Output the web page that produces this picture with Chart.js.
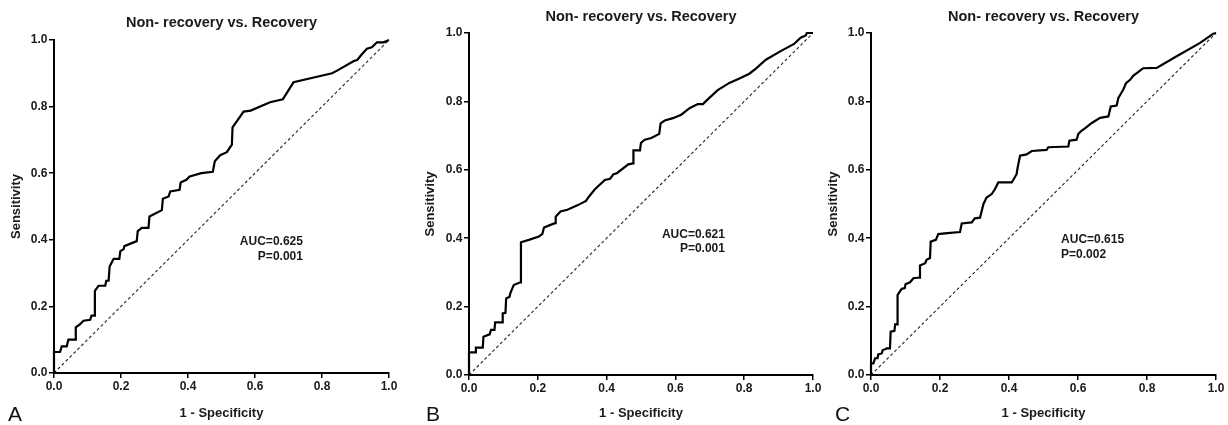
<!DOCTYPE html>
<html>
<head>
<meta charset="utf-8">
<title>Curvas ROC</title>
<script src="https://cdn.jsdelivr.net/npm/chart.js@4.4.1/dist/chart.umd.min.js"></script>
<style>
    html, body { margin: 0; padding: 0; background: #fff; }
    #lienzo { position: relative; width: 1228px; height: 425px; overflow: hidden; }
    .panel { position: absolute; top: 0; height: 425px; }
    .letra { position: absolute; font-family: 'Liberation Sans', Arial, sans-serif; font-size: 21px; line-height: 21px; color: #111; }
</style>
</head>
<body>
<div id="lienzo">
    <div class="panel" style="left:0px;width:410px"><canvas id="rocA" width="410" height="425"></canvas></div>
    <div class="panel" style="left:410px;width:420px"><canvas id="rocB" width="420" height="425"></canvas></div>
    <div class="panel" style="left:820px;width:408px"><canvas id="rocC" width="408" height="425"></canvas></div>
    <div class="letra" id="letraA" style="left:8px;top:403px"></div>
    <div class="letra" id="letraB" style="left:426px;top:403px"></div>
    <div class="letra" id="letraC" style="left:835px;top:403px"></div>
</div>
<script>
(function() {
    // Textos y marcas de los ejes
    const tituloPanel = 'Non- recovery vs. Recovery';
    const tituloX = '1 - Specificity';
    const tituloY = 'Sensitivity';
    const letras = ['A', 'B', 'C'];
    const valoresTicks = [0, 0.2, 0.4, 0.6, 0.8, 1.0];
    const textosAUC = [
        ['AUC=0.625', 'P=0.001'],
        ['AUC=0.621', 'P=0.001'],
        ['AUC=0.615', 'P=0.002']
    ];

    // Línea de referencia
    const diagonalX = [0, 1];
    const diagonalY = [0, 1];

    // Panel A (1 - especificidad, sensibilidad)
    const rocA_fpr = [0, 0, 0.018, 0.023, 0.038, 0.043, 0.063, 0.065, 0.078, 0.088, 0.108, 0.112, 0.12, 0.122, 0.133, 0.153, 0.156, 0.163, 0.166, 0.178, 0.195, 0.198, 0.208, 0.21, 0.247, 0.25, 0.262, 0.282, 0.285, 0.322, 0.325, 0.342, 0.347, 0.375, 0.378, 0.395, 0.405, 0.44, 0.474, 0.48, 0.496, 0.516, 0.531, 0.533, 0.566, 0.587, 0.645, 0.683, 0.715, 0.83, 0.845, 0.895, 0.905, 0.919, 0.934, 0.949, 0.964, 0.984, 1];
    const rocA_sens = [0, 0.063, 0.063, 0.08, 0.08, 0.10, 0.10, 0.137, 0.147, 0.157, 0.16, 0.172, 0.172, 0.247, 0.262, 0.262, 0.277, 0.277, 0.32, 0.343, 0.343, 0.366, 0.372, 0.381, 0.396, 0.426, 0.436, 0.436, 0.47, 0.489, 0.523, 0.53, 0.545, 0.55, 0.572, 0.58, 0.59, 0.60, 0.604, 0.636, 0.654, 0.663, 0.686, 0.738, 0.785, 0.788, 0.813, 0.822, 0.873, 0.90, 0.908, 0.937, 0.94, 0.957, 0.974, 0.978, 0.993, 0.993, 1];

    // Panel B
    const rocB_fpr = [0, 0, 0.018, 0.02, 0.04, 0.042, 0.06, 0.064, 0.074, 0.076, 0.096, 0.098, 0.106, 0.108, 0.118, 0.12, 0.13, 0.149, 0.151, 0.174, 0.203, 0.213, 0.218, 0.237, 0.25, 0.252, 0.266, 0.286, 0.315, 0.34, 0.349, 0.366, 0.395, 0.41, 0.42, 0.43, 0.463, 0.477, 0.478, 0.497, 0.50, 0.511, 0.53, 0.553, 0.557, 0.569, 0.593, 0.617, 0.641, 0.651, 0.665, 0.68, 0.694, 0.723, 0.757, 0.786, 0.815, 0.834, 0.863, 0.906, 0.945, 0.964, 0.979, 0.982, 1];
    const rocB_sens = [0, 0.066, 0.066, 0.08, 0.08, 0.112, 0.119, 0.132, 0.132, 0.154, 0.154, 0.18, 0.182, 0.224, 0.229, 0.239, 0.263, 0.271, 0.388, 0.395, 0.405, 0.412, 0.431, 0.439, 0.444, 0.463, 0.478, 0.483, 0.496, 0.509, 0.522, 0.543, 0.57, 0.574, 0.587, 0.59, 0.616, 0.619, 0.657, 0.657, 0.679, 0.688, 0.693, 0.705, 0.736, 0.744, 0.751, 0.761, 0.78, 0.785, 0.792, 0.792, 0.806, 0.833, 0.854, 0.867, 0.881, 0.896, 0.922, 0.947, 0.968, 0.986, 0.993, 1.0, 1];

    // Panel C
    const rocC_fpr = [0, 0, 0.007, 0.012, 0.019, 0.021, 0.031, 0.034, 0.043, 0.045, 0.055, 0.057, 0.068, 0.07, 0.076, 0.077, 0.089, 0.098, 0.10, 0.113, 0.123, 0.14, 0.142, 0.157, 0.161, 0.171, 0.173, 0.188, 0.195, 0.221, 0.258, 0.263, 0.292, 0.301, 0.316, 0.326, 0.335, 0.35, 0.359, 0.369, 0.408, 0.422, 0.425, 0.432, 0.451, 0.466, 0.509, 0.514, 0.572, 0.575, 0.596, 0.601, 0.61, 0.62, 0.64, 0.664, 0.688, 0.695, 0.712, 0.717, 0.731, 0.739, 0.751, 0.76, 0.775, 0.789, 0.828, 0.886, 0.954, 0.992, 1];
    const rocC_sens = [0, 0.034, 0.034, 0.049, 0.049, 0.06, 0.063, 0.073, 0.076, 0.078, 0.078, 0.127, 0.129, 0.148, 0.148, 0.234, 0.252, 0.254, 0.265, 0.271, 0.283, 0.285, 0.32, 0.327, 0.337, 0.342, 0.39, 0.395, 0.412, 0.415, 0.418, 0.443, 0.446, 0.458, 0.46, 0.50, 0.519, 0.529, 0.543, 0.563, 0.563, 0.587, 0.606, 0.641, 0.645, 0.655, 0.658, 0.666, 0.668, 0.685, 0.688, 0.705, 0.714, 0.721, 0.737, 0.752, 0.756, 0.785, 0.788, 0.81, 0.834, 0.853, 0.863, 0.875, 0.886, 0.897, 0.898, 0.932, 0.971, 0.998, 1];

    const fuente = "'Liberation Sans', Arial, sans-serif";

    // Ajustes de maquetación de cada panel (píxeles y posición del texto AUC)
    const paneles = [
        { id: 'rocA', fpr: rocA_fpr, sens: rocA_sens, anchoY: 54, altoX: 52, padDer: 21, titArriba: 14.3, titAbajo: 8.3, padTitY: 8.2, textoX: 0.743, textoY: [0.393, 0.348], alinear: 'right' },
        { id: 'rocB', fpr: rocB_fpr, sens: rocB_sens, anchoY: 59, altoX: 50, padDer: 17, titArriba: 8.3, titAbajo: 7.3, padTitY: 12.2, textoX: 0.744, textoY: [0.409, 0.368], alinear: 'right' },
        { id: 'rocC', fpr: rocC_fpr, sens: rocC_sens, anchoY: 51, altoX: 50, padDer: 12, titArriba: 8.3, titAbajo: 7.3, padTitY: 5.2, textoX: 0.551, textoY: [0.395, 0.351], alinear: 'left' }
    ];

    function aPuntos(xs, ys) {
        return xs.map((v, i) => ({ x: v, y: ys[i] }));
    }

    const pluginTextoAUC = {
        id: 'textoAUC',
        afterDatasetsDraw(chart, args, opts) {
            const { ctx } = chart;
            const ejeX = chart.scales.x;
            const ejeY = chart.scales.y;
            const px = ejeX.getPixelForValue(opts.x);
            ctx.save();
            ctx.font = 'bold 12px ' + fuente;
            ctx.fillStyle = '#1a1a1a';
            ctx.textAlign = opts.alinear;
            ctx.textBaseline = 'middle';
            opts.lineas.forEach((texto, i) => {
                ctx.fillText(texto, px, ejeY.getPixelForValue(opts.y[i]));
            });
            ctx.restore();
        }
    };

    function opcionesEje(panel, esX) {
        return {
            type: 'linear',
            min: 0,
            max: 1,
            afterBuildTicks: eje => { eje.ticks = valoresTicks.map(v => ({ value: v })); },
            afterFit: eje => {
                if (esX) {
                    eje.height = panel.altoX;
                    eje.paddingLeft = 0;
                    eje.paddingRight = 0;
                } else {
                    eje.width = panel.anchoY;
                    eje.paddingTop = 0;
                    eje.paddingBottom = 0;
                }
            },
            border: { display: true, color: '#000', width: 2 },
            grid: { drawOnChartArea: false, drawTicks: true, tickLength: 5, color: '#000', lineWidth: 1.5 },
            ticks: {
                padding: esX ? 1 : 1.5,
                maxRotation: 0,
                autoSkip: false,
                color: '#1a1a1a',
                font: { family: fuente, size: 12, weight: 'bold' },
                callback: v => Number(v).toFixed(1)
            },
            title: esX
                ? { display: true, text: tituloX, color: '#1a1a1a', font: { family: fuente, size: 13, weight: 'bold' }, padding: { top: 0, bottom: 4.2 } }
                : { display: true, text: tituloY, color: '#1a1a1a', font: { family: fuente, size: 13, weight: 'bold' }, padding: { top: panel.padTitY, bottom: 0 } }
        };
    }

    function crearGrafico(panel, indice) {
        const ctx = document.getElementById(panel.id);
        return new Chart(ctx, {
            type: 'scatter',
            data: {
                datasets: [{
                    data: aPuntos(panel.fpr, panel.sens),
                    showLine: true,
                    borderColor: '#000',
                    borderWidth: 2.2,
                    pointRadius: 0,
                    tension: 0,
                    clip: false
                }, {
                    data: aPuntos(diagonalX, diagonalY),
                    showLine: true,
                    borderColor: '#222',
                    borderWidth: 1.1,
                    borderDash: [3, 2.5],
                    pointRadius: 0,
                    clip: false
                }]
            },
            options: {
                responsive: false,
                animation: false,
                layout: { padding: { left: 0, right: panel.padDer, top: 0, bottom: 0 } },
                scales: {
                    x: opcionesEje(panel, true),
                    y: opcionesEje(panel, false)
                },
                plugins: {
                    legend: { display: false },
                    tooltip: { enabled: false },
                    title: {
                        display: true,
                        text: tituloPanel,
                        fullSize: false,
                        color: '#1a1a1a',
                        font: { family: fuente, size: 14.5, weight: 'bold' },
                        padding: { top: panel.titArriba, bottom: panel.titAbajo }
                    },
                    textoAUC: {
                        lineas: textosAUC[indice],
                        x: panel.textoX,
                        y: panel.textoY,
                        alinear: panel.alinear
                    }
                }
            },
            plugins: [pluginTextoAUC]
        });
    }

    function init() {
        paneles.forEach((panel, i) => crearGrafico(panel, i));
        letras.forEach(l => { document.getElementById('letra' + l).textContent = l; });
    }

    if (document.readyState === 'loading') {
        document.addEventListener('DOMContentLoaded', init);
    } else {
        init();
    }
})();
</script>
</body>
</html>
